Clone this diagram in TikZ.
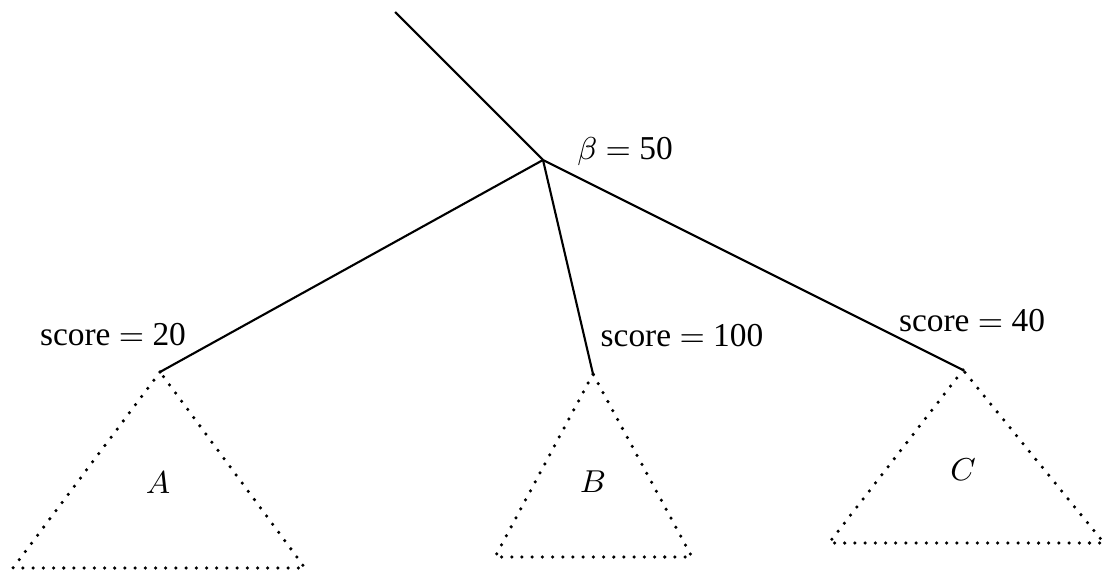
\documentclass[tikz,border=0pt]{standalone}
\usepackage{fontspec}
\setmainfont{Liberation Serif}
\usepackage{tikz}
\usetikzlibrary{positioning}

\tikzset{
  branch/.style={line width=0.6pt},
  subtree/.style={line width=1pt, line cap=round, dash pattern=on 0pt off 2.9pt},
  lbl/.style={inner sep=0pt, font=\fontsize{9.5pt}{11pt}\selectfont}
}

\begin{document}
\begin{tikzpicture}[x=0.01cm, y=-0.01cm]
    \useasboundingbox (0,0) rectangle (1106,573);
    % root and its parent edge
    \coordinate (top) at (395,12);
    \coordinate (root) at (543,160);
    \node[lbl] (beta) at (625,151) {$\beta$ $=$ 50};
    % children
    \coordinate (a) at (160,372);
    \coordinate (b) at (593,374);
    \coordinate (c) at (963,370);
    \node[lbl] (scoreA) at (113,335) {score $=$ 20};
    \node[lbl] (scoreB) at (682,336) {score $=$ 100};
    \node[lbl] (scoreC) at (972,321) {score $=$ 40};
    % edges
    \draw[branch] (top) -- (root);
    \draw[branch] (root) -- (a);
    \draw[branch] (root) -- (b);
    \draw[branch] (root) -- (c);
    % Subtree A
    \coordinate (aL) at (13,568);
    \coordinate (aR) at (305,568);
    \draw[subtree] (a) -- (aL) -- (aR) -- cycle;
    \node[lbl] (treeA) at (158,483) {$A$};
    % Subtree B
    \coordinate (bL) at (495,557);
    \coordinate (bR) at (692,557);
    \draw[subtree] (b) -- (bL) -- (bR) -- cycle;
    \node[lbl] (treeB) at (593,482) {$B$};
    % Subtree C
    \coordinate (cL) at (829,543);
    \coordinate (cR) at (1104,543);
    \draw[subtree] (c) -- (cL) -- (cR) -- cycle;
    \node[lbl] (treeC) at (963,470) {$C$};
\end{tikzpicture}
\end{document}
